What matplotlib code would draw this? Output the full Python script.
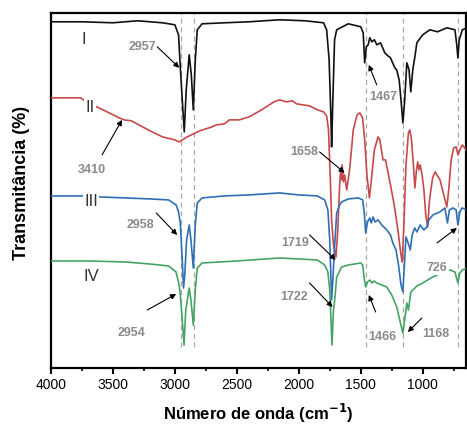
import matplotlib
matplotlib.use("Agg")
import matplotlib.pyplot as plt

plt.rcParams['font.family'] = ['Liberation Sans', 'DejaVu Sans']

# ---- data (wavenumber cm-1, transmittance a.u.) ----
wn_I = [4000, 3750, 3500, 3300, 3100, 3000, 2970, 2956, 2940, 2924, 2908, 2884, 2867, 2851,
        2835, 2819, 2780, 2600, 2400, 2155, 1950, 1800, 1775, 1755, 1740, 1735, 1725, 1711,
        1694, 1600, 1500, 1480, 1468, 1455, 1440, 1427, 1410, 1390, 1370, 1340, 1306, 1290,
        1260, 1225, 1210, 1190, 1175, 1160, 1145, 1128, 1110, 1096, 1080, 1063, 1047, 1000,
        942, 880, 805, 740, 725, 716, 705, 680, 645]
T_I = [346, 346, 345, 347, 345, 343, 333, 301, 268, 236, 278, 313, 293, 258,
       308, 338, 344, 345, 346, 348, 347, 345, 338, 308, 248, 221, 268, 328,
       338, 344, 341, 335, 305, 321, 323, 330, 326, 328, 323, 325, 315, 313,
       310, 300, 298, 288, 268, 245, 268, 305, 298, 276, 298, 311, 325, 333,
       338, 336, 340, 338, 323, 310, 328, 338, 340]

wn_II = [4000, 3760, 3700, 3612, 3530, 3450, 3409, 3350, 3290, 3200, 3100, 3000, 2965, 2900,
         2800, 2700, 2665, 2600, 2560, 2480, 2400, 2300, 2200, 2155, 2100, 2050, 2018, 1913,
         1850, 1800, 1775, 1760, 1745, 1735, 1720, 1700, 1685, 1670, 1660, 1655, 1650, 1640,
         1630, 1613, 1590, 1560, 1530, 1508, 1485, 1468, 1450, 1430, 1410, 1390, 1360, 1346,
         1320, 1300, 1260, 1230, 1200, 1175, 1165, 1150, 1135, 1115, 1104, 1090, 1075, 1063,
         1050, 1040, 1030, 1020, 1005, 990, 975, 960, 945, 920, 900, 885, 860, 830, 805, 790,
         770, 750, 730, 715, 700, 680, 650]
T_II = [270, 270, 265, 260, 255, 250, 248, 247, 243, 237, 231, 228, 226, 231,
        237, 241, 243, 244, 248, 248, 251, 258, 266, 268, 266, 267, 264, 262,
        258, 256, 252, 238, 188, 148, 123, 111, 138, 183, 200, 188, 203, 186,
        193, 178, 198, 238, 253, 255, 250, 228, 193, 170, 193, 218, 231, 228,
        208, 208, 183, 163, 138, 113, 106, 148, 203, 235, 238, 228, 203, 180,
        198, 206, 198, 203, 193, 178, 153, 141, 168, 190, 196, 193, 188, 173, 161, 178,
        208, 220, 221, 213, 218, 223, 218]

wn_III = [4000, 3760, 3612, 3400, 3200, 3050, 2990, 2970, 2956, 2940, 2930, 2920, 2905, 2884,
          2870, 2851, 2835, 2819, 2780, 2600, 2400, 2155, 2000, 1850, 1791, 1765, 1750, 1740,
          1735, 1725, 1715, 1700, 1694, 1670, 1654, 1600, 1520, 1484, 1470, 1460, 1445, 1427,
          1415, 1400, 1385, 1360, 1330, 1290, 1260, 1241, 1215, 1195, 1175, 1160, 1150, 1135,
          1120, 1100, 1085, 1065, 1047, 1020, 990, 966, 950, 918, 880, 861, 821, 800, 785,
          756, 730, 716, 700, 683, 645]
T_III = [172, 172, 171, 170, 169, 168, 163, 156, 145, 108, 80, 93, 128, 143,
         128, 100, 143, 165, 170, 172, 173, 175, 173, 172, 168, 158, 128, 88,
         68, 88, 113, 143, 155, 163, 166, 169, 170, 168, 153, 135, 146, 150,
         145, 151, 146, 148, 143, 138, 133, 125, 118, 103, 83, 76, 98, 131,
         126, 118, 133, 140, 136, 143, 138, 141, 148, 153, 155, 156, 160, 145, 158,
         160, 158, 143, 156, 160, 158]

wn_IV = [4000, 3700, 3400, 3200, 3050, 2990, 2965, 2956, 2940, 2926, 2912, 2884, 2870, 2851,
         2835, 2819, 2780, 2500, 2155, 2000, 1850, 1791, 1765, 1750, 1740, 1732, 1720, 1710,
         1694, 1654, 1600, 1500, 1484, 1470, 1460, 1445, 1427, 1410, 1390, 1371, 1330, 1290,
         1250, 1209, 1185, 1160, 1140, 1128, 1115, 1096, 1079, 1047, 1000, 960, 918, 850, 780,
         740, 716, 700, 680, 645]
T_IV = [107, 107, 106, 104, 102, 96, 83, 73, 48, 23, 58, 80, 68, 43,
        78, 100, 105, 107, 110, 109, 108, 103, 96, 78, 48, 23, 58, 68,
        91, 101, 103, 105, 103, 88, 81, 86, 88, 85, 87, 85, 83, 81,
        73, 61, 48, 35, 53, 65, 58, 76, 78, 82, 85, 88, 91, 95, 98,
        96, 85, 95, 98, 100]

ref_lines = [2950, 2845, 1455, 1155, 718]

labels_roman = ['I', 'II', 'III', 'IV']
roman_pos = [(3733, 328), (3684, 260), (3676, 166), (3676, 91)]

peak_labels = ['2957', '3410', '1658', '1467', '2958', '2954', '1719', '1722', '1466', '1168', '726']
peak_text_xy = [(3264, 321), (3668, 198), (1953, 216), (1322, 271), (3280, 143), (3353, 35),
                (2026, 125), (2034, 71), (1322, 31), (893, 34), (885, 100)]
peak_tail_xy = [(3142, 321), (3587, 213), (1832, 216), (1371, 283), (3150, 155), (3223, 58),
                (1913, 133), (1913, 85), (1379, 56), (1007, 50), (885, 125)]
peak_head_xy = [(2964, 300), (3426, 248), (1630, 195), (1435, 303), (2981, 133), (2989, 74),
                (1702, 108), (1727, 61), (1435, 73), (1120, 36), (724, 140)]

fig = plt.figure(figsize=(4.67, 4.26), dpi=100)
ax = fig.add_axes([0.109, 0.136, 0.889, 0.834])

for x in ref_lines:
    ax.axvline(x, ymin=0.06, ymax=1.0, color='#a8a8a8', ls=(0, (4, 3)), lw=0.9, zorder=1)

ax.plot(wn_I, T_I, color='#111111', lw=1.2, zorder=3)
ax.plot(wn_II, T_II, color='#c8494b', lw=1.2, zorder=3)
ax.plot(wn_III, T_III, color='#2f6fb5', lw=1.2, zorder=3)
ax.plot(wn_IV, T_IV, color='#45a465', lw=1.2, zorder=3)

for lab, (x, y) in zip(labels_roman, roman_pos):
    kw = {}
    if lab in ('II', 'III'):
        kw['bbox'] = dict(facecolor='white', edgecolor='none', pad=1.0)
    ax.text(x, y, lab, fontsize=12, color='#333333', ha='center', va='center', zorder=5, **kw)

for lab, txy, tail, head in zip(peak_labels, peak_text_xy, peak_tail_xy, peak_head_xy):
    kw = {}
    if lab == '726':
        kw['bbox'] = dict(facecolor='white', edgecolor='none', pad=1.0)
    ax.text(txy[0], txy[1], lab, fontsize=9, fontweight='bold', color='#8a8a8a',
            ha='center', va='center', zorder=5, **kw)
    ax.annotate('', xy=head, xytext=tail,
                arrowprops=dict(arrowstyle='-|>', color='black', lw=0.8, mutation_scale=8,
                                shrinkA=0, shrinkB=0), zorder=6)

ax.set_xlim(4000, 650)
ax.set_ylim(0, 355)
ax.set_xticks([4000, 3500, 3000, 2500, 2000, 1500, 1000])
ax.set_xticks([3750, 3250, 2750, 2250, 1750, 1250, 750], minor=True)
ax.set_yticks([])
ax.tick_params(axis='x', which='major', direction='out', length=4, width=1.5, labelsize=10, pad=3)
ax.tick_params(axis='x', which='minor', direction='out', length=2.5, width=1.2)
for s in ax.spines.values():
    s.set_linewidth(1.6)

ax.set_xlabel('Número de onda (cm$^{\\mathbf{-1}}$)', fontsize=12, fontweight='bold', va='center')
ax.set_ylabel('Transmitância (%)', fontsize=13, fontweight='bold', va='center')
ax.xaxis.set_label_coords(0.5, -0.128)
ax.yaxis.set_label_coords(-0.07, 0.52)

fig.savefig('out.png', dpi=100)
